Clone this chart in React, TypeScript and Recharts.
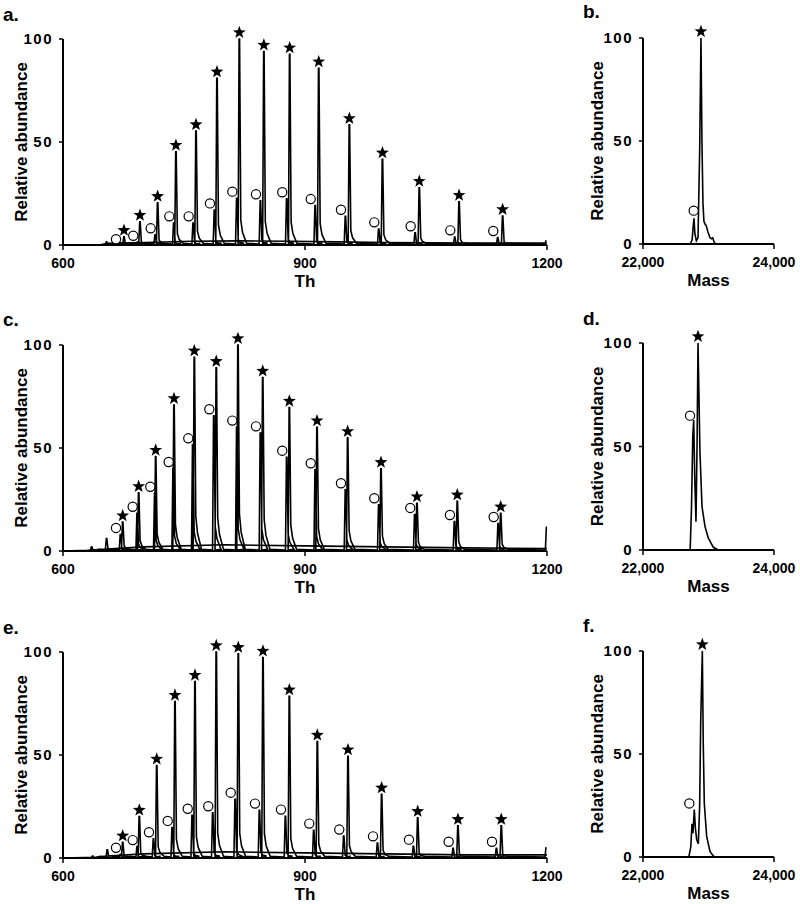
import React from 'react';
import { ComposedChart, Line, Scatter, XAxis, YAxis } from 'recharts';

type P = [number, number];

const thTicks = [600, 900, 1200];
const massTicks = [22000, 24000];
const yTicks = [0, 50, 100];

// ---- panel a (charge-state spectrum) ----
const aMain: P[] = [[675.6, 4], [695.4, 11.3], [717.3, 20.5], [740, 45.3], [764.9, 55.3], [790.9, 80.9], [818.6, 100], [849, 93.9], [881, 92.6], [917, 85.8], [955, 58.3], [996, 41.6], [1041.7, 27.8], [1091, 21], [1145, 14.1]];
const aSat: P[] = [[671.2, 1.2], [692.6, 1.5], [714.2, 4.9], [737.3, 10.7], [761.3, 10.7], [787.7, 17], [815.4, 22.7], [844.7, 21.4], [877.3, 22.4], [912.6, 19.1], [950.1, 13.9], [991.4, 7.8], [1036.5, 5.9], [1085.6, 3.9], [1138.9, 3.6]];
const aCircles: P[] = [[665.7, 2.8], [687.1, 4.5], [708.7, 8.1], [731.8, 13.9], [755.8, 13.9], [782.2, 20.2], [809.9, 25.9], [839.2, 24.6], [871.8, 25.6], [907.1, 22.3], [944.6, 17.1], [985.9, 11], [1031, 9.1], [1080.1, 7.1], [1133.4, 6.8]];
const aExtra: P[] = [[654, 1.5], [1199, 2]];
const aBase: P[] = [[600, 0], [645, 0], [655, 0.8], [700, 1.2], [760, 1.8], [820, 2], [880, 1.8], [940, 1.5], [1000, 1.2], [1100, 1], [1200, 1]];

// ---- panel c ----
const cMain: P[] = [[674, 14], [693.8, 28.2], [714.9, 45.8], [737.6, 70.9], [762.8, 94], [790, 88.9], [816.9, 100], [847.6, 84.2], [880.6, 69.6], [914.9, 60.1], [952.9, 54.9], [994.2, 39.9], [1038.8, 23.2], [1088.8, 24.1], [1142.6, 18.3]];
const cSat: P[] = [[671.2, 8], [691.9, 18.3], [713.7, 28], [736.5, 40], [760.8, 51.5], [786.9, 65.6], [815.4, 60.1], [844.7, 57.3], [877.3, 45.5], [912.6, 39.4], [950.1, 29.7], [991.4, 22.4], [1036, 17.7], [1085.2, 14.3], [1139.4, 13.3]];
const cCircles: P[] = [[665.7, 11.2], [686.4, 21.5], [708.2, 31.2], [731, 43.2], [755.3, 54.7], [781.4, 68.8], [809.9, 63.3], [839.2, 60.5], [871.8, 48.7], [907.1, 42.6], [944.6, 32.9], [985.9, 25.6], [1030.5, 20.9], [1079.7, 17.5], [1133.9, 16.5]];
const cExtra: P[] = [[635.5, 2], [654, 6], [1199.5, 11.5]];
const cBase: P[] = [[600, 0], [630, 0.3], [650, 0.8], [700, 2], [800, 3], [900, 2.5], [1000, 2], [1100, 1.5], [1200, 1.2]];

// ---- panel e ----
const eMain: P[] = [[674, 7.6], [694.6, 20.1], [716.2, 44.9], [738.8, 75.9], [763.6, 85.6], [790, 100], [817.3, 99.1], [847.9, 97.3], [880.6, 78.5], [915.3, 56.5], [953.3, 49.4], [995, 30.9], [1039.7, 19.5], [1089.6, 15.6], [1143.3, 15.6]];
const eSat: P[] = [[671.2, 1.8], [691.9, 5.5], [712.1, 9.3], [735.3, 14.8], [760.1, 20.7], [785.6, 21.9], [813.4, 28.5], [843.5, 23.2], [875.7, 20.3], [910.8, 13.5], [948, 10.6], [989.8, 7.3], [1034.4, 5.7], [1083.6, 4.7], [1137.3, 4.7]];
const eCircles: P[] = [[665.7, 5], [686.4, 8.7], [706.6, 12.5], [729.8, 18], [754.6, 23.9], [780.1, 25.1], [807.9, 31.7], [838, 26.4], [870.2, 23.5], [905.3, 16.7], [942.5, 13.8], [984.3, 10.5], [1028.9, 8.9], [1078.1, 7.9], [1131.8, 7.9]];
const eExtra: P[] = [[636.8, 1], [654.9, 4], [1199, 5]];
const eBase: P[] = [[600, 0], [640, 0.3], [655, 1], [700, 2], [800, 3], [900, 2.5], [1000, 2], [1100, 1.5], [1200, 1.5]];

// ---- deconvoluted mass panels ----
const bTrace: P[] = [[22000, 0], [22720, 0], [22750, 2], [22770, 10], [22779, 12.5], [22792, 5], [22815, 1.6], [22840, 3], [22865, 45], [22885, 100], [22900, 50], [22915, 20], [22930, 11], [22950, 9.5], [22965, 9], [22990, 6], [23023, 3], [23045, 2.5], [23064, 3], [23085, 1], [23110, 0], [24000, 0]];
const bMain: P[] = [[22885, 100]];
const bCircles: P[] = [[22774, 16.2]];

const dTrace: P[] = [[22000, 0], [22720, 0], [22740, 20], [22760, 55], [22774, 62.8], [22790, 35], [22809, 13.7], [22825, 50], [22840, 100], [22870, 46.7], [22901, 20.9], [22947, 11.3], [22998, 5.7], [23074, 1.3], [23150, 0], [24000, 0]];
const dMain: P[] = [[22840, 100]];
const dCircles: P[] = [[22718, 64.9]];

const fTrace: P[] = [[22000, 0], [22700, 0], [22730, 5], [22748, 16.1], [22763, 11.6], [22783, 23], [22800, 14], [22820, 8.4], [22845, 6.4], [22865, 25], [22881, 66], [22906, 100], [22920, 55], [22936, 26], [22972, 10], [23023, 2.7], [23073, 0.5], [23100, 0], [24000, 0]];
const fMain: P[] = [[22906, 100]];
const fCircles: P[] = [[22707, 26]];

const FONT = '"Liberation Sans", Arial, sans-serif';

const toObj = (arr: P[]) => arr.map(([x, y]) => ({ x, y }));

// stick-peak polyline built from the peak list (apex values)
function peakTrace(peaks: P[], lo: number, hi: number, tail: number) {
  const sorted = [...peaks].sort((p, q) => p[0] - q[0]);
  const out: { x: number; y: number }[] = [];
  for (const [x, h] of sorted) {
    const pts = [
      { x: x - 1.5, y: 0.5 },
      { x: x - 0.3, y: h },
      { x: x + 0.3, y: h },
      { x: x + 1.8, y: h * tail },
      { x: x + 4, y: h * tail * 0.5 },
      { x: x + 9, y: 0.8 },
    ].filter((p) => p.x >= lo && p.x <= hi);
    out.push(...pts);
  }
  return out;
}

const StarShape = (props: any) => {
  const { cx, cy } = props;
  if (cx == null || cy == null) return <g />;
  const R = 6.8;
  const r = 2.8;
  const oy = cy - 6.5;
  let d = '';
  for (let i = 0; i < 10; i++) {
    const ang = -Math.PI / 2 + (i * Math.PI) / 5;
    const rad = i % 2 === 0 ? R : r;
    d += (i ? 'L' : 'M') + (cx + rad * Math.cos(ang)).toFixed(2) + ',' + (oy + rad * Math.sin(ang)).toFixed(2);
  }
  return <path d={d + 'Z'} fill="#000" />;
};

const CircleShape = (props: any) => {
  const { cx, cy } = props;
  if (cx == null || cy == null) return <g />;
  return <circle cx={cx} cy={cy} r={4.6} fill="#fff" stroke="#000" strokeWidth={1.2} />;
};

type PanelProps = {
  left: number;
  top: number;
  width: number;
  mLeft: number;
  mRight: number;
  mTop: number;
  plotH: number;
  xDomain: [number, number];
  xTicks: number[];
  fmt?: (v: number) => string;
  xTitle: string;
  yTitleX: number;
  lines: { x: number; y: number }[][];
  stars: P[];
  circles: P[];
};

const tickStyle = { fontFamily: FONT, fontWeight: 700, fontSize: 14, fill: '#000' };

function Panel(p: PanelProps) {
  const xAxisH = 30;
  const mBottom = 15;
  const height = p.mTop + p.plotH + xAxisH + mBottom;
  const plotLeft = p.mLeft + 40;
  const plotRight = p.width - p.mRight;
  const cxTitle = (plotLeft + plotRight) / 2;
  const axisY = p.mTop + p.plotH;
  const cyTitle = p.mTop + p.plotH / 2;
  return (
    <div style={{ position: 'absolute', left: p.left, top: p.top }}>
      <ComposedChart
        width={p.width}
        height={height}
        margin={{ top: p.mTop, right: p.mRight, bottom: mBottom, left: p.mLeft }}
      >
        <XAxis
          type="number"
          dataKey="x"
          domain={p.xDomain}
          ticks={p.xTicks}
          interval={0}
          tickFormatter={p.fmt}
          height={xAxisH}
          tickSize={5}
          tickMargin={8}
          axisLine={{ stroke: '#000', strokeWidth: 2 }}
          tickLine={{ stroke: '#000', strokeWidth: 1.5 }}
          tick={tickStyle}
          label={{
            content: () => (
              <text x={cxTitle} y={axisY + 42} textAnchor="middle" fontFamily={FONT} fontWeight={700} fontSize={17} fill="#000">
                {p.xTitle}
              </text>
            ),
          }}
        />
        <YAxis
          type="number"
          dataKey="y"
          domain={[0, 100]}
          ticks={yTicks}
          interval={0}
          width={40}
          tickSize={4}
          tickMargin={6}
          axisLine={{ stroke: '#000', strokeWidth: 2 }}
          tickLine={{ stroke: '#000', strokeWidth: 1.5 }}
          tick={{ ...tickStyle, fontSize: 15, letterSpacing: 1.5 }}
          label={{
            content: () => (
              <text
                x={p.yTitleX}
                y={cyTitle}
                dy="0.35em"
                transform={`rotate(-90, ${p.yTitleX}, ${cyTitle})`}
                textAnchor="middle"
                fontFamily={FONT}
                fontWeight={700}
                fontSize={17}
                fill="#000"
              >
                Relative abundance
              </text>
            ),
          }}
        />
        {p.lines.map((ln, i) => (
          <Line
            key={i}
            data={ln}
            dataKey="y"
            type="linear"
            stroke="#000"
            strokeWidth={1.6}
            dot={false}
            activeDot={false}
            isAnimationActive={false}
          />
        ))}
        <Scatter data={toObj(p.stars)} dataKey="y" shape={<StarShape />} isAnimationActive={false} />
        <Scatter data={toObj(p.circles)} dataKey="y" shape={<CircleShape />} isAnimationActive={false} />
      </ComposedChart>
    </div>
  );
}

const fmtMass = (v: number) => v.toLocaleString('en-US');

const letters: { t: string; x: number; y: number }[] = [
  { t: 'a.', x: 3, y: 21 },
  { t: 'b.', x: 583, y: 18 },
  { t: 'c.', x: 3, y: 326 },
  { t: 'd.', x: 583, y: 325 },
  { t: 'e.', x: 3, y: 634 },
  { t: 'f.', x: 583, y: 632 },
];

export default function App() {
  const leftCommon = { left: 0, width: 580, mLeft: 23, mRight: 33, plotH: 206, xDomain: [600, 1200] as [number, number], xTicks: thTicks, xTitle: 'Th', yTitleX: 21 };
  const rightCommon = { left: 580, width: 220, mLeft: 23, mRight: 26, xDomain: [22000, 24000] as [number, number], xTicks: massTicks, fmt: fmtMass, xTitle: 'Mass', yTitleX: 17 };
  return (
    <div style={{ position: 'absolute', left: 0, top: 0, width: 800, height: 904, background: '#fff', overflow: 'hidden' }}>
      <svg width={800} height={904} style={{ position: 'absolute', left: 0, top: 0 }}>
        {letters.map((l) => (
          <text key={l.t} x={l.x} y={l.y} fontFamily={FONT} fontWeight={700} fontSize={19} fill="#000">
            {l.t}
          </text>
        ))}
      </svg>
      <Panel {...leftCommon} top={0} mTop={39}
        lines={[toObj(aBase), peakTrace([...aMain, ...aSat, ...aExtra], 600, 1200, 0.12)]}
        stars={aMain} circles={aCircles} />
      <Panel {...rightCommon} top={0} mTop={38} plotH={206}
        lines={[toObj(bTrace)]} stars={bMain} circles={bCircles} />
      <Panel {...leftCommon} top={306} mTop={39}
        lines={[toObj(cBase), peakTrace([...cMain, ...cSat, ...cExtra], 600, 1200, 0.18)]}
        stars={cMain} circles={cCircles} />
      <Panel {...rightCommon} top={305} mTop={38} plotH={207}
        lines={[toObj(dTrace)]} stars={dMain} circles={dCircles} />
      <Panel {...leftCommon} top={613} mTop={39}
        lines={[toObj(eBase), peakTrace([...eMain, ...eSat, ...eExtra], 600, 1200, 0.12)]}
        stars={eMain} circles={eCircles} />
      <Panel {...rightCommon} top={612} mTop={39} plotH={206}
        lines={[toObj(fTrace)]} stars={fMain} circles={fCircles} />
    </div>
  );
}
